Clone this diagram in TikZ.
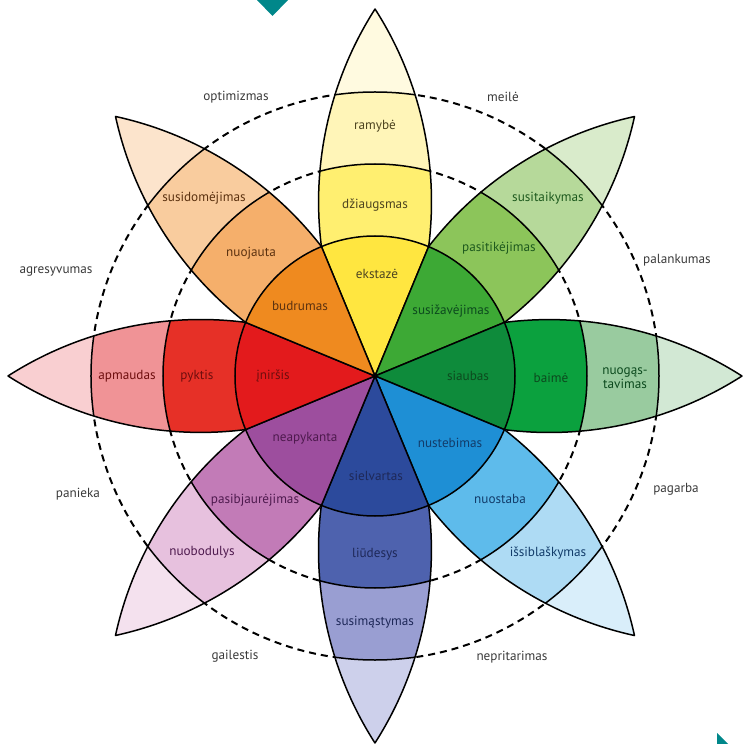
\documentclass[tikz,border=0pt]{standalone}
\usepackage{fontspec}
\setmainfont{PT Sans}
% petal colours: inner sector, first band, second band, tip
\definecolor{ya}{HTML}{FFE640}\definecolor{yb}{HTML}{FFEF70}\definecolor{yc}{HTML}{FFF5B8}\definecolor{yd}{HTML}{FFFAE0}
\definecolor{ga}{HTML}{3DA935}\definecolor{gb}{HTML}{8CC55A}\definecolor{gc}{HTML}{B6D99A}\definecolor{gd}{HTML}{D9EBCB}
\definecolor{da}{HTML}{0E8B3B}\definecolor{db}{HTML}{0BA13E}\definecolor{dc}{HTML}{99CB9F}\definecolor{dd}{HTML}{D2E8D4}
\definecolor{ba}{HTML}{1E8FD5}\definecolor{bb}{HTML}{5EBBEB}\definecolor{bc}{HTML}{AEDBF4}\definecolor{bd}{HTML}{D9EEFA}
\definecolor{na}{HTML}{2C4A9C}\definecolor{nb}{HTML}{4E62AE}\definecolor{nc}{HTML}{999ED2}\definecolor{nd}{HTML}{CDD0EB}
\definecolor{pa}{HTML}{9D4E9E}\definecolor{pb}{HTML}{C27BB7}\definecolor{pc}{HTML}{E7C1DE}\definecolor{pd}{HTML}{F4E1EE}
\definecolor{ra}{HTML}{E31A1C}\definecolor{rb}{HTML}{E63027}\definecolor{rc}{HTML}{F09396}\definecolor{rd}{HTML}{F9CFD1}
\definecolor{oa}{HTML}{EF8A1F}\definecolor{ob}{HTML}{F5AF6B}\definecolor{oc}{HTML}{F9CC9E}\definecolor{od}{HTML}{FCE4CC}
% label colours
\definecolor{ty}{HTML}{4D4420}\definecolor{to}{HTML}{5C3210}\definecolor{tr}{HTML}{6E0E0E}
\definecolor{tp}{HTML}{4E1A4E}\definecolor{tn}{HTML}{1E2858}\definecolor{tb}{HTML}{123C6A}
\definecolor{td}{HTML}{0C4A1E}\definecolor{tg}{HTML}{1E5A1E}\definecolor{outer}{HTML}{3A3A3A}
\definecolor{teal}{HTML}{00878A}
\tikzset{
  lbl/.style={font=\fontsize{13.2}{14}\selectfont, inner sep=0pt, align=center},
  outerlbl/.style={lbl, text=outer},
  ring/.style={dashed, dash pattern=on 7pt off 5pt, line width=2pt},
  edge/.style={line width=1.5pt, black, line join=round},
}
\begin{document}
\begin{tikzpicture}[x=1pt,y=1pt]
\useasboundingbox (-375,-368) rectangle (367,376);
% dashed guide circles
\draw[ring] (0,0) circle (212);
\draw[ring] (0,0) circle (284);
% petals
\foreach \a/\ca/\cb/\cc/\cd in {90/ya/yb/yc/yd, 45/ga/gb/gc/gd, 0/da/db/dc/dd, -45/ba/bb/bc/bd,
  -90/na/nb/nc/nd, -135/pa/pb/pc/pd, 180/ra/rb/rc/rd, 135/oa/ob/oc/od}{
  \begin{scope}[rotate=\a]
    \begin{scope}
      \clip (0,0) -- (22.5:140) arc[start angle=97.23, end angle=57.35, radius=357.2]
            arc[start angle=-57.35, end angle=-97.23, radius=357.2] -- cycle;
      \fill[\cd] (0,0) circle (370);
      \fill[\cc] (0,0) circle (284);
      \fill[\cb] (0,0) circle (212);
      \fill[\ca] (0,0) circle (140);
      \draw[edge] (0,0) circle (212);
      \draw[edge] (0,0) circle (284);
    \end{scope}
    \draw[edge] (0,0) -- (22.5:140) arc[start angle=97.23, end angle=57.35, radius=357.2]
          arc[start angle=-57.35, end angle=-97.23, radius=357.2] -- cycle;
  \end{scope}
}
\draw[edge] (0,0) circle (140);
% decorative corner marks
\fill[teal] (-118,376) -- (-102.5,360) -- (-87,376) -- cycle;
\fill[teal] (342,-357) -- (353,-368) -- (342,-368) -- cycle;
% labels in the petals
\node[lbl, text=ty] (ramybe) at (0,250) {ramybė};
\node[lbl, text=ty] (dziaugsmas) at (0,171) {džiaugsmas};
\node[lbl, text=ty] (ekstaze) at (2,102) {ekstazė};
\node[lbl, text=tg] (susitaikymas) at (173,178) {susitaikymas};
\node[lbl, text=tg] (pasitikejimas) at (124,128) {pasitikėjimas};
\node[lbl, text=td] (susizavejimas) at (76,65) {susižavėjimas};
\node[lbl, text=to] (budrumas) at (-75,70) {budrumas};
\node[lbl, text=to] (nuojauta) at (-124,123) {nuojauta};
\node[lbl, text=to] (susidomejimas) at (-171,178) {susidomėjimas};
\node[lbl, text=tr] (apmaudas) at (-248,0) {apmaudas};
\node[lbl, text=tr] (pyktis) at (-178,0) {pyktis};
\node[lbl, text=tr] (inirsis) at (-102,0) {įniršis};
\node[lbl, text=td] (siaubas) at (93,0) {siaubas};
\node[lbl, text=td] (baime) at (176,-2) {baimė};
\node[lbl, text=td] (nuogastavimas) at (250,-2) {nuogąs-\\tavimas};
\node[lbl, text=tb] (nustebimas) at (75,-67) {nustebimas};
\node[lbl, text=tb] (nuostaba) at (125,-123) {nuostaba};
\node[lbl, text=tb] (issiblaskymas) at (173,-177) {išsiblaškymas};
\node[lbl, text=tn] (sielvartas) at (1,-100) {sielvartas};
\node[lbl, text=tn] (liudesys) at (0,-178) {liūdesys};
\node[lbl, text=tn] (susimastymas) at (0,-246) {susimąstymas};
\node[lbl, text=tp] (neapykanta) at (-70,-62) {neapykanta};
\node[lbl, text=tp] (pasibjaurejimas) at (-120,-124) {pasibjaurėjimas};
\node[lbl, text=tp] (nuobodulys) at (-173,-176) {nuobodulys};
% labels between the petals
\node[outerlbl] (optimizmas) at (-139,279) {optimizmas};
\node[outerlbl] (meile) at (128,279) {meilė};
\node[outerlbl] (agresyvumas) at (-319,104) {agresyvumas};
\node[outerlbl] (palankumas) at (302,116) {palankumas};
\node[outerlbl] (panieka) at (-297,-118) {panieka};
\node[outerlbl] (pagarba) at (301,-113) {pagarba};
\node[outerlbl] (gailestis) at (-140,-280) {gailestis};
\node[outerlbl] (nepritarimas) at (137,-281) {nepritarimas};
\end{tikzpicture}
\end{document}
